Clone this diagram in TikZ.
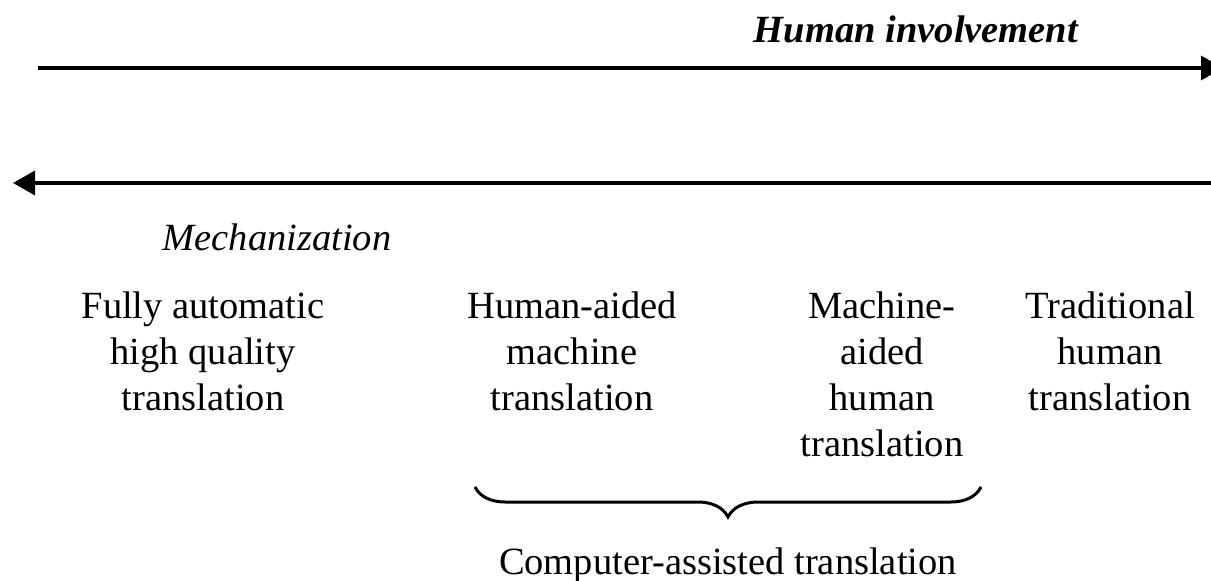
\documentclass[tikz,border=0pt]{standalone}
\usepackage{fontspec}
\setmainfont{Liberation Serif}
\usetikzlibrary{arrows.meta,decorations.pathreplacing}
\begin{document}
\begin{tikzpicture}[x=1pt,y=-1pt,
  lbl/.style={font=\fontsize{38.5}{46}\selectfont, align=center, inner sep=0pt, anchor=north},
  axis/.style={line width=3.5pt, -{Triangle[length=22pt,width=24pt]}},
  title/.style={font=\fontsize{38.5}{46}\selectfont, inner sep=0pt, anchor=base}
]
\useasboundingbox (0,0) rectangle (1211,581);
% arrows
\coordinate (t0) at (38,68);
\coordinate (t1) at (1223,68);
\coordinate (b0) at (1211,183);
\coordinate (b1) at (13,183);
\draw[axis] (t0) -- (t1);
\draw[axis] (b0) -- (b1);
% titles
\node[title, font=\fontsize{38.5}{46}\selectfont\bfseries\itshape] (hi) at (916,42) {Human involvement};
\node[title, font=\fontsize{38.5}{46}\selectfont\itshape] (mech) at (277,250) {Mechanization};
% categories
\node[lbl] (fa) at (203,292) {Fully automatic\\high quality\\translation};
\node[lbl] (ham) at (572,292) {Human-aided\\machine\\translation};
\node[lbl] (mah) at (882,292) {Machine-\\aided\\human\\translation};
\node[lbl] (thm) at (1110,292) {Traditional\\human\\translation};
% brace
\coordinate (br0) at (475,487);
\coordinate (br1) at (981,487);
\draw[line width=3pt, decorate, decoration={brace, mirror, amplitude=30pt}] (br0) -- (br1);
\node[title] (cat) at (728,574) {Computer-assisted translation};
\end{tikzpicture}
\end{document}
